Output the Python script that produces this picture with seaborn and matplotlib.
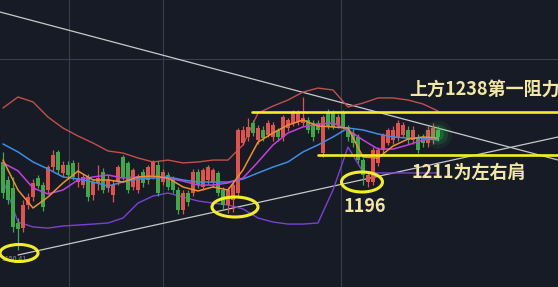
import numpy as np
import pandas as pd
import matplotlib
matplotlib.use("Agg")
import matplotlib.pyplot as plt
import seaborn as sns
from matplotlib.patches import Ellipse

sns.set_theme(style="dark")
plt.rcParams['font.family'] = ['Noto Sans CJK SC', 'DejaVu Sans']

# ---------------- data ----------------
opens = [1206.6, 1195.3, 1190.2, 1168.3, 1165.1, 1179.6, 1184.6, 1196.5, 1192.1, 1189.0,
         1203.4, 1212.9, 1199.7, 1204.7, 1205.9, 1194.0, 1192.1, 1197.2, 1185.9, 1193.4,
         1200.3, 1190.2, 1185.9, 1194.0, 1209.7, 1205.9, 1190.9, 1189.0, 1200.3, 1195.3,
         1198.4, 1204.7, 1194.0, 1198.4, 1196.5, 1189.0, 1176.4, 1187.1, 1187.1, 1200.3,
         1190.9, 1195.3, 1193.4, 1199.7, 1189.0, 1179.6, 1182.7, 1187.1, 1218.5, 1222.3,
         1231.1, 1220.4, 1226.7, 1223.5, 1222.3, 1226.7, 1222.3, 1227.9, 1231.1, 1231.7,
         1231.1, 1232.9, 1231.1, 1231.1, 1212.2, 1238.0, 1237.3, 1229.8, 1237.3, 1228.6,
         1224.8, 1222.3, 1207.8, 1194.0, 1194.0, 1206.0, 1214.1, 1218.5, 1220.4, 1222.3,
         1223.5, 1226.7, 1220.4, 1222.3, 1222.3, 1218.5, 1220.4, 1226.7]
closes = [1187.1, 1182.7, 1165.8, 1164.5, 1179.6, 1184.6, 1193.4, 1191.5, 1178.3, 1203.4,
          1211.0, 1201.6, 1204.7, 1198.4, 1197.2, 1196.5, 1197.2, 1184.6, 1194.0, 1196.5,
          1189.0, 1195.3, 1192.1, 1203.4, 1197.2, 1189.0, 1201.6, 1197.2, 1193.4, 1203.4,
          1206.6, 1187.1, 1200.3, 1190.9, 1189.0, 1176.4, 1187.1, 1181.5, 1200.3, 1192.1,
          1201.6, 1203.4, 1201.6, 1187.1, 1179.6, 1189.0, 1192.1, 1226.7, 1226.7, 1228.6,
          1224.8, 1227.9, 1221.7, 1231.1, 1229.8, 1222.3, 1234.8, 1232.9, 1237.3, 1237.3,
          1234.2, 1226.7, 1222.3, 1226.7, 1234.8, 1228.6, 1228.6, 1234.8, 1228.6, 1222.3,
          1218.5, 1207.8, 1198.4, 1198.4, 1214.1, 1214.1, 1223.5, 1226.7, 1226.7, 1231.1,
          1229.8, 1220.4, 1226.7, 1214.1, 1218.5, 1226.7, 1227.9, 1222.3]
highs = [1212.9, 1198.0, 1197.2, 1171.4, 1182.7, 1187.0, 1196.0, 1198.4, 1194.0, 1205.0,
         1214.0, 1214.1, 1207.0, 1207.0, 1208.0, 1206.6, 1199.0, 1199.0, 1196.0, 1204.7,
         1203.0, 1198.4, 1195.3, 1205.0, 1211.0, 1207.0, 1203.0, 1199.0, 1202.0, 1205.0,
         1208.0, 1207.0, 1202.0, 1200.0, 1198.0, 1191.0, 1189.0, 1189.0, 1202.0, 1202.0,
         1203.0, 1205.0, 1203.0, 1201.0, 1191.0, 1191.0, 1194.0, 1228.0, 1229.0, 1234.2,
         1233.0, 1230.0, 1229.0, 1233.0, 1232.0, 1228.0, 1236.0, 1234.0, 1239.0, 1239.0,
         1247.4, 1235.0, 1233.0, 1233.0, 1236.0, 1240.0, 1239.0, 1237.0, 1239.0, 1230.0,
         1227.0, 1224.0, 1209.0, 1200.0, 1216.0, 1216.0, 1225.0, 1228.0, 1229.0, 1233.0,
         1232.0, 1229.0, 1229.0, 1224.0, 1224.0, 1229.0, 1231.0, 1229.0]
lows = [1184.0, 1180.0, 1162.6, 1151.3, 1162.6, 1177.0, 1182.0, 1190.2, 1176.0, 1187.0,
        1201.0, 1199.0, 1197.0, 1196.0, 1195.0, 1190.9, 1190.0, 1182.0, 1183.0, 1189.0,
        1187.0, 1187.7, 1181.5, 1192.0, 1195.0, 1187.0, 1189.0, 1187.0, 1191.0, 1193.0,
        1196.0, 1185.0, 1192.0, 1189.0, 1187.0, 1174.0, 1174.0, 1179.0, 1185.0, 1190.0,
        1189.0, 1193.0, 1191.0, 1185.0, 1177.0, 1174.6, 1175.0, 1185.0, 1217.0, 1220.0,
        1223.0, 1218.0, 1220.0, 1222.0, 1220.0, 1220.0, 1220.0, 1226.0, 1229.0, 1230.0,
        1229.0, 1225.0, 1220.0, 1225.0, 1210.0, 1227.0, 1227.0, 1228.0, 1227.0, 1220.0,
        1216.0, 1206.0, 1192.1, 1190.9, 1192.0, 1204.0, 1212.0, 1217.0, 1218.0, 1220.0,
        1222.0, 1218.0, 1218.0, 1212.0, 1216.0, 1216.0, 1218.0, 1220.0]

line_idx = list(range(0, 88, 3))
boll_upper = [1240.5, 1247.4, 1244.3, 1234.8, 1227.9, 1222.9, 1218.5, 1213.5, 1212.2, 1209.1,
              1206.6, 1207.8, 1206.0, 1206.6, 1207.8, 1207.8, 1217.3, 1237.3, 1241.7, 1245.5,
              1250.5, 1253.0, 1251.8, 1241.1, 1243.6, 1246.8, 1246.8, 1245.5, 1243.0, 1238.6]
boll_lower = [1195.3, 1168.9, 1165.8, 1165.1, 1166.4, 1167.0, 1167.6, 1168.3, 1171.4, 1180.8,
              1185.2, 1187.1, 1184.6, 1182.1, 1180.8, 1179.6, 1177.1, 1171.4, 1168.9, 1167.6,
              1167.6, 1168.3, 1189.0, 1216.0, 1200.3, 1199.7, 1199.7, 1199.7, 1199.7, 1199.7]
ma_blue = [1217.9, 1212.9, 1206.6, 1202.2, 1197.2, 1195.9, 1194.0, 1191.5, 1194.0, 1195.9,
           1196.5, 1197.2, 1195.3, 1194.0, 1194.0, 1194.0, 1195.9, 1199.7, 1203.4, 1206.6,
           1212.9, 1217.3, 1222.3, 1227.9, 1226.7, 1224.2, 1222.3, 1221.6, 1221.6, 1220.4]
ma_orange = [1207.8, 1189.0, 1177.7, 1184.6, 1193.4, 1200.9, 1195.3, 1195.3, 1194.0, 1197.2,
             1197.8, 1196.5, 1190.9, 1188.4, 1190.9, 1189.0, 1201.6, 1219.1, 1224.8, 1229.8,
             1232.9, 1229.2, 1228.6, 1227.9, 1209.7, 1209.1, 1216.6, 1221.0, 1222.3, 1221.6]
ma_magenta = [1206.0, 1201.0, 1190.3, 1186.5, 1189.0, 1195.3, 1197.2, 1198.4, 1196.5, 1197.2,
              1197.2, 1196.5, 1194.6, 1192.1, 1192.1, 1193.4, 1196.5, 1206.6, 1217.3, 1224.8,
              1228.6, 1230.4, 1231.1, 1226.7, 1220.4, 1214.7, 1214.7, 1217.3, 1220.4, 1221.6]

resistance = 1238
shoulder = 1211
low_label = "1196"

# ---------------- layout helpers (pixel -> data) ----------------
def px_x(px):
    return (px - 3) / 5.0

def px_y(py):
    return 1308.3 - py * 0.6279

BG = "#171b26"
UP = "#e0524e"
DOWN = "#3daa4a"
YEL = "#f2ee22"
TXT = "#f2e8a4"

fig = plt.figure(figsize=(5.58, 2.87), dpi=100)
fig.patch.set_facecolor(BG)
ax = fig.add_axes([0, 0, 1, 1])
ax.set_facecolor(BG)
ax.axis("off")
ax.set_xlim(px_x(0), px_x(558))
ax.set_ylim(px_y(287), px_y(0))

# grid lines
for gx in [69, 163, 341]:
    ax.axvline(px_x(gx), color="#3a3f4e", lw=0.8, zorder=0)
ax.axhline(px_y(59), color="#3a3f4e", lw=0.8, zorder=0)

# trend lines
ax.plot([px_x(0), px_x(558)], [px_y(12), px_y(160)], color="#c9c9cc", lw=0.9, zorder=1)
ax.plot([px_x(18), px_x(558)], [px_y(255), px_y(137)], color="#c9c9cc", lw=0.9, zorder=1)

# bollinger bands
sns.lineplot(x=line_idx, y=boll_upper, ax=ax, color="#c0504a", lw=1.0, zorder=2)
sns.lineplot(x=line_idx, y=boll_lower, ax=ax, color="#7c40d4", lw=1.0, zorder=2)

# candles
df = pd.DataFrame({"o": opens, "c": closes, "h": highs, "l": lows})
df["i"] = np.arange(len(df))
df["col"] = np.where(df["c"] >= df["o"], UP, DOWN)
ax.vlines(df["i"], df["l"], df["h"], colors=df["col"], lw=0.9, zorder=3)
body_h = (df["c"] - df["o"]).abs().clip(lower=0.6)
ax.bar(df["i"], body_h, bottom=df[["o", "c"]].min(axis=1), width=0.7,
       color=df["col"], edgecolor="none", zorder=4)

# moving averages
sns.lineplot(x=line_idx, y=ma_blue, ax=ax, color="#3a8ee6", lw=1.1, zorder=5)
sns.lineplot(x=line_idx, y=ma_magenta, ax=ax, color="#c440dc", lw=1.1, zorder=5)
sns.lineplot(x=line_idx, y=ma_orange, ax=ax, color="#f0902a", lw=1.1, zorder=6)

# glow on last candle
for r, a in [(14, 0.07), (10, 0.12), (6, 0.2)]:
    ax.scatter([87], [closes[-1] + 1.5], s=(2 * r * 0.72) ** 2, color="#39e85a",
               alpha=a, edgecolors="none", zorder=7)

# yellow support / resistance lines
ax.plot([px_x(252), px_x(558)], [resistance, resistance], color=YEL, lw=1.9, zorder=8)
ax.plot([px_x(318), px_x(558)], [shoulder, shoulder], color=YEL, lw=1.9, zorder=8)

# ellipses
for cx, cy, w, h in [(19, 253, 38, 17), (235, 207, 46, 20), (362, 182, 41, 20)]:
    ax.add_patch(Ellipse((px_x(cx), px_y(cy)), w / 5.0, h * 0.6279, fill=False,
                         edgecolor=YEL, lw=2.2, zorder=9))

# texts
ax.text(px_x(1), px_y(259), "1150.41", fontsize=5, color="#8a8f9a", va="center", ha="left", zorder=8)
ax.text(px_x(409), px_y(89), f"上方{resistance}第一阻力", fontsize=13, fontweight="bold",
        color=TXT, va="center", ha="left", zorder=10)
ax.text(px_x(411), px_y(172), f"{shoulder}为左右肩", fontsize=13, fontweight="bold",
        color=TXT, va="center", ha="left", zorder=10)
ax.text(px_x(343), px_y(207), low_label, fontsize=13, fontweight="bold",
        color=TXT, va="center", ha="left", zorder=10)

fig.savefig("out.png", dpi=100, facecolor=BG)
